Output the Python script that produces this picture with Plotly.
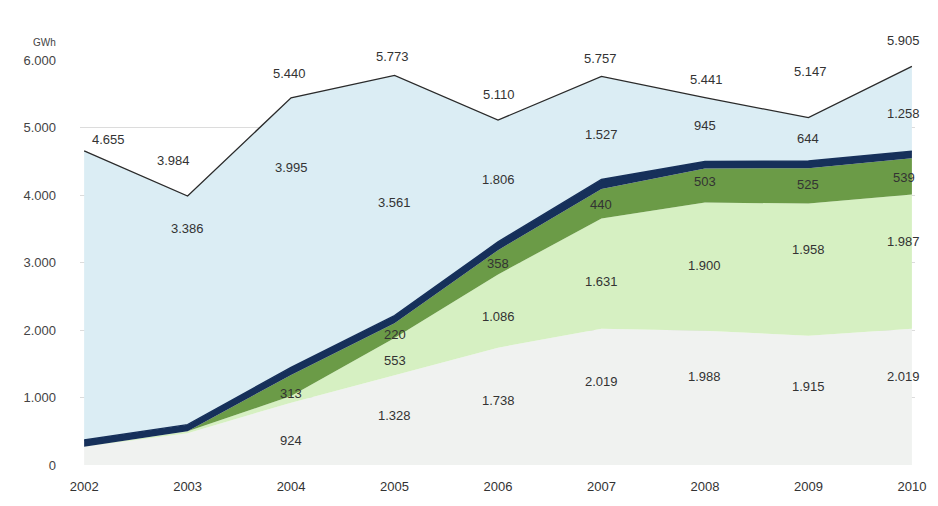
import plotly.graph_objects as go

years = [2002, 2003, 2004, 2005, 2006, 2007, 2008, 2009, 2010]
totals = [4655, 3984, 5440, 5773, 5110, 5757, 5441, 5147, 5905]
bottom = [270, 470, 924, 1328, 1738, 2019, 1988, 1915, 2019]
light_green = [0, 30, 98, 553, 1086, 1631, 1900, 1958, 1987]
dark_green = [0, 0, 313, 220, 358, 440, 503, 525, 539]
navy = [100, 98, 110, 111, 122, 140, 105, 105, 102]
blue = [4285, 3386, 3995, 3561, 1806, 1527, 945, 644, 1258]

# which values carry a printed label
bottom_lbl = [False, False, True, True, True, True, True, True, True]
lg_lbl = [False, False, False, True, True, True, True, True, True]
dg_lbl = [False, False, True, True, True, True, True, True, True]
blue_lbl = [False, True, True, True, True, True, True, True, True]

# label placement (fraction of band height) - layout only
bottom_frac = [0.5, 0.5, 0.40, 0.55, 0.55, 0.61, 0.66, 0.61, 0.65]
lg_frac = [0.5, 0.5, 0.5, 0.41, 0.43, 0.43, 0.51, 0.65, 0.65]
dg_frac = [0.5, 0.5, 0.1, 0.27, 0.47, 0.46, 0.63, 0.55, 0.48]
blue_frac = [0.5, 0.86, 0.74, 0.47, 0.51, 0.44, 0.56, 0.53, 0.45]
total_shift = [11, 36, 24, 19, 26, 18, 18, 46, 26]
total_xshift = [24, -14, -2, -2, 1, -1, 2, 2, -8]

C_BOTTOM = "#f0f2f0"
C_LG = "#d6f0c2"
C_DG = "#6b9b47"
C_NAVY = "#16305a"
C_BLUE = "#dbedf4"

FONT = "Liberation Sans, Arial, sans-serif"

fig = go.Figure()
fig.add_trace(go.Scatter(x=years, y=bottom, stackgroup="s", mode="lines",
                         line=dict(width=0, color=C_BOTTOM), fillcolor=C_BOTTOM, hoverinfo="skip"))
fig.add_trace(go.Scatter(x=years, y=light_green, stackgroup="s", mode="lines",
                         line=dict(width=0, color=C_LG), fillcolor=C_LG, hoverinfo="skip"))
fig.add_trace(go.Scatter(x=years, y=dark_green, stackgroup="s", mode="lines",
                         line=dict(width=0, color=C_DG), fillcolor=C_DG, hoverinfo="skip"))
fig.add_trace(go.Scatter(x=years, y=navy, stackgroup="s", mode="lines",
                         line=dict(width=1.5, color=C_NAVY), fillcolor=C_NAVY, hoverinfo="skip"))
fig.add_trace(go.Scatter(x=years, y=blue, stackgroup="s", mode="lines",
                         line=dict(width=1.3, color="#2a2a2a"), fillcolor=C_BLUE, hoverinfo="skip"))


def fmt(v):
    return f"{v:,}".replace(",", ".")


TXT = dict(family=FONT, size=13, color="#333333")
ann = []
for i, yr in enumerate(years):
    b0 = 0
    layers = [(bottom, bottom_lbl, bottom_frac), (light_green, lg_lbl, lg_frac),
              (dark_green, dg_lbl, dg_frac), (navy, None, None), (blue, blue_lbl, blue_frac)]
    xs = -8 if i == len(years) - 1 else 0
    for vals, lbl, frac in layers:
        if lbl is not None and lbl[i]:
            ann.append(dict(x=yr, y=b0 + vals[i] * frac[i], text=fmt(vals[i]), showarrow=False,
                            font=TXT, xref="x", yref="y", xshift=xs))
        b0 += vals[i]
    ann.append(dict(x=yr, y=totals[i], text=fmt(totals[i]), showarrow=False, font=TXT,
                    xref="x", yref="y", yshift=total_shift[i], xshift=total_xshift[i]))

ann.append(dict(x=-0.042, y=1.025, xref="paper", yref="paper", text="GWh",
                xanchor="center", yanchor="bottom", showarrow=False,
                font=dict(family=FONT, size=10, color="#444")))

fig.update_layout(
    width=922, height=490,
    margin=dict(l=72, r=15, t=52, b=33),
    paper_bgcolor="white", plot_bgcolor="white",
    showlegend=False,
    separators=",.",
    annotations=ann,
    xaxis=dict(range=[2001.96, 2010.03], tickmode="array", tickvals=years,
               ticktext=[str(y) for y in years], showgrid=False, zeroline=False, showline=False,
               ticks="", ticklabelstandoff=12, automargin=False,
               tickfont=dict(family=FONT, size=13, color="#333")),
    yaxis=dict(range=[0, 6000], tickvals=[0, 1000, 2000, 3000, 4000, 5000, 6000],
               tickformat=",d", showgrid=True, gridcolor="#dcdcdc", gridwidth=1,
               zeroline=False, showline=False, ticks="", ticklabelstandoff=23, automargin=False,
               tickfont=dict(family=FONT, size=13, color="#444"),
               layer="below traces"),
)

fig.write_html("out.html")
